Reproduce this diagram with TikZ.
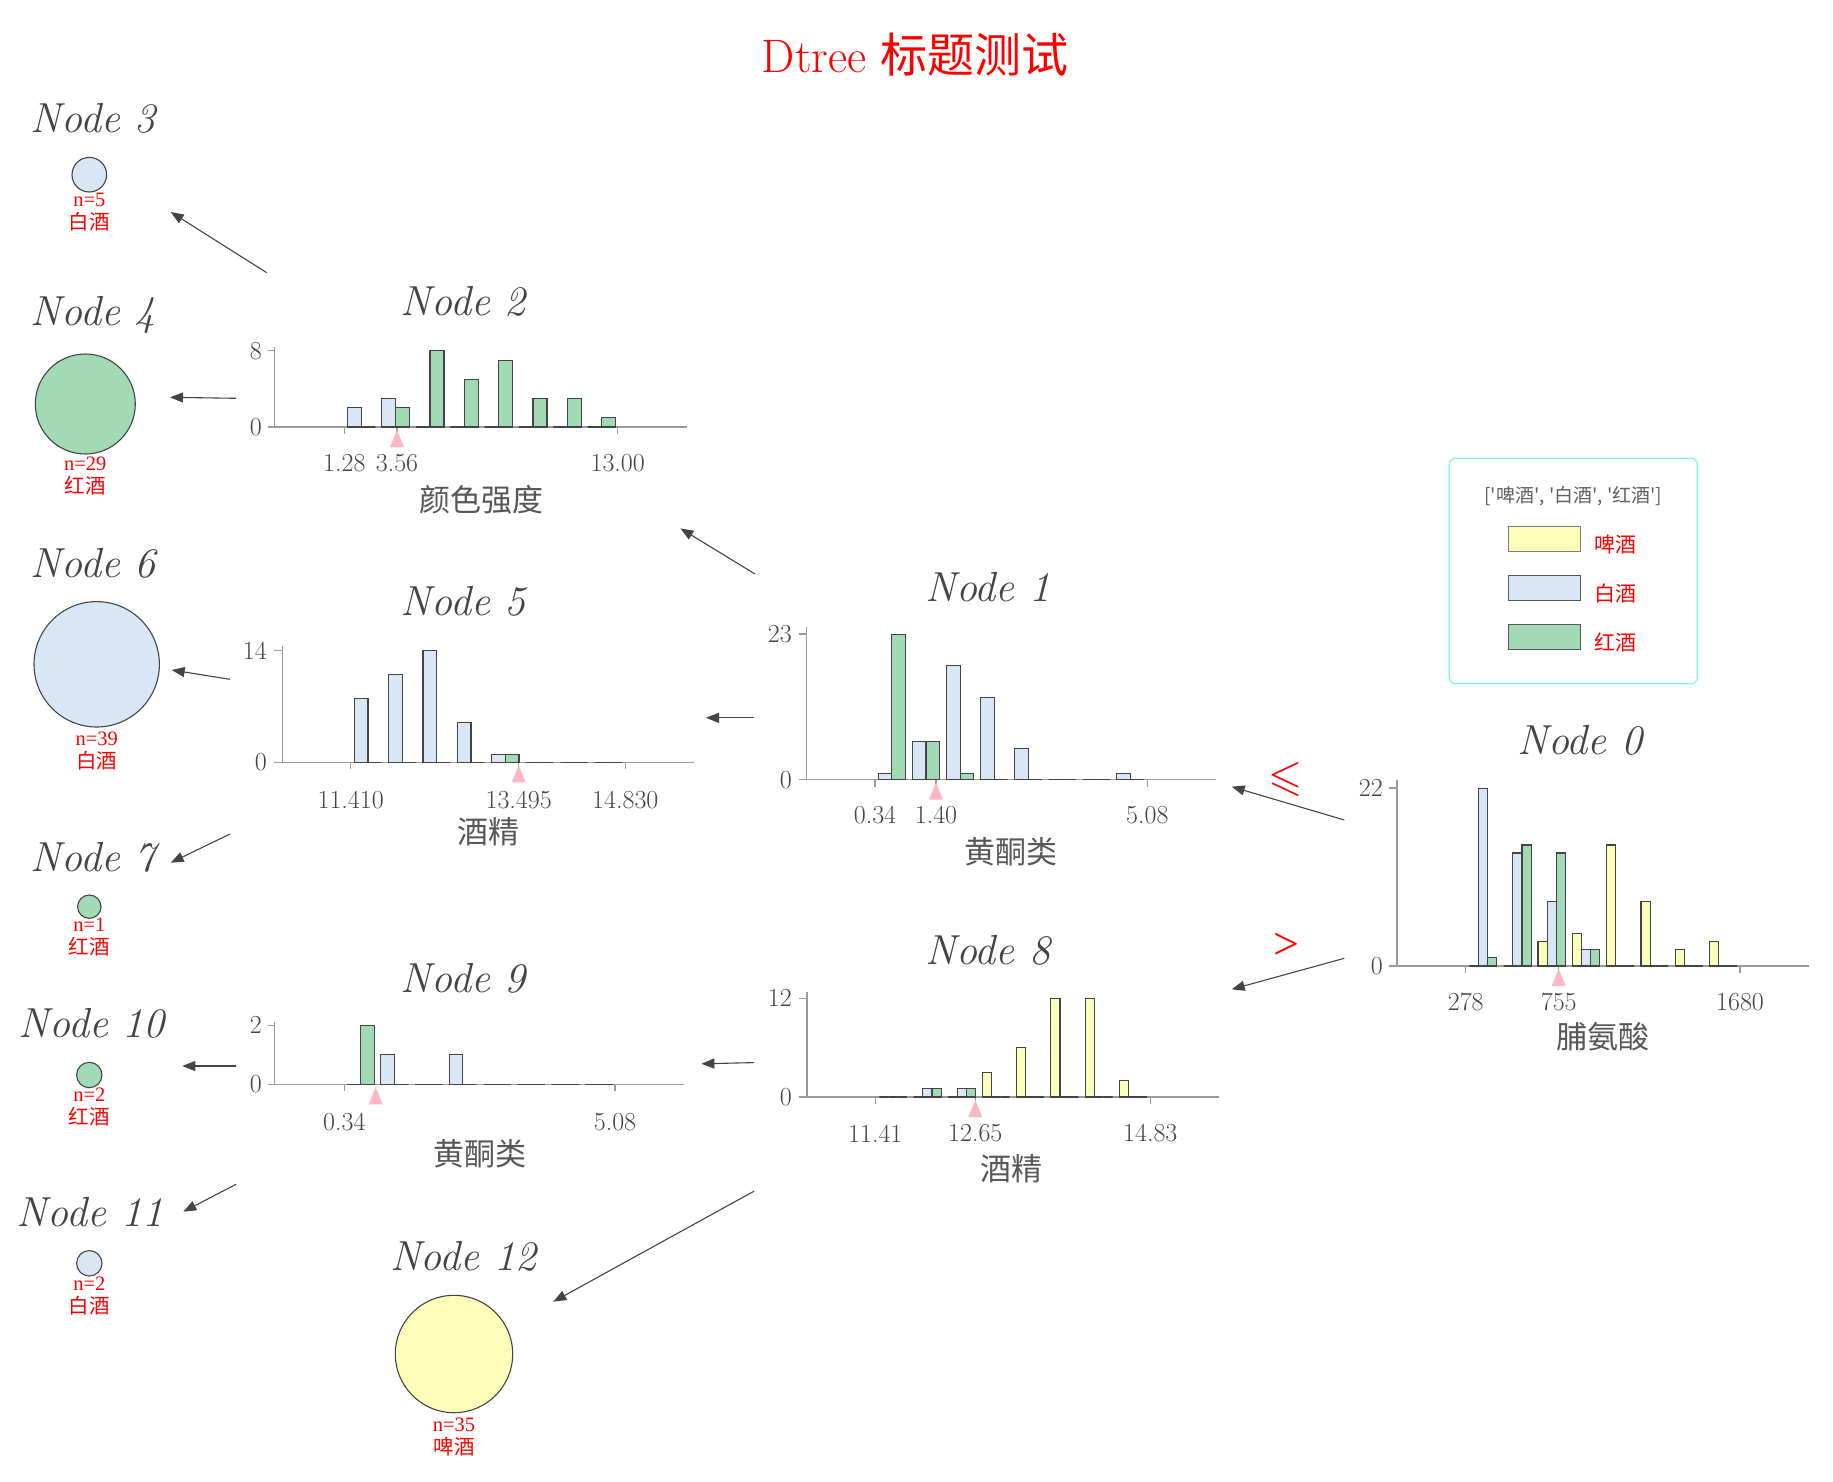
\documentclass[tikz,border=0pt]{standalone}
\usepackage{amssymb}
\usepackage{fontspec}
\usetikzlibrary{arrows.meta}
\newfontfamily\cjk{Noto Sans CJK SC}
\newfontfamily\tms{Liberation Serif}
\definecolor{cY}{HTML}{FEFEBB}
\definecolor{cB}{HTML}{D9E6F5}
\definecolor{cG}{HTML}{A1DAB4}
\definecolor{txt}{HTML}{444443}
\definecolor{axc}{HTML}{9A9A9A}
\definecolor{pinkc}{HTML}{FFB6C1}
\definecolor{legc}{HTML}{80F4F4}
\newcommand{\sq}{\textquotesingle}
\newcommand{\histo}[6]{%
  \foreach \g/\c/\h/\col in {#6}{%
    \draw[barst, fill=\col] ({#1+\g*#2+\c*#3},{#4}) rectangle ++({#3},{-\h*#5});
  }%
}
\newcommand{\splitmark}[2]{\fill[pinkc] (#1,{#2+3}) -- ({#1-7},{#2+20}) -- ({#1+7},{#2+20}) -- cycle;}
\tikzset{
  barst/.style={draw=txt, line width=1.1pt},
  axis/.style={draw=axc, line width=1.2pt},
  ntitle/.style={font=\fontsize{42}{44}\selectfont\itshape, text=txt, inner sep=0pt},
  tlab/.style={font=\fontsize{26}{28}\selectfont, text=txt, inner sep=0pt},
  alab/.style={font=\cjk\fontsize{31}{33}\selectfont, text=txt!90, inner sep=0pt},
  leaf/.style={font=\tms\fontsize{20.5}{23}\selectfont, text=red, align=center, inner sep=0pt},
  leafc/.style={circle, draw=txt, line width=1.1pt, inner sep=0pt},
  conn/.style={draw=txt, line width=1.1pt, -{Triangle[length=13pt,width=10pt]}},
}
\begin{document}
\begin{tikzpicture}[x=1pt,y=-1pt]
\fill[white] (0,0) rectangle (1833,1482);
\useasboundingbox (0,0) rectangle (1833,1482);

% title
\node[text=red, font=\fontsize{47}{49}\selectfont, inner sep=0pt] (title) at (915.3,55) {Dtree {\cjk 标题测试}};

% ---------------- Node 0 ----------------
\node[ntitle] (t0) at (1580,740) {Node 0};
\draw[axis] (1397,966) -- (1397,780);
\draw[axis] (1389,966) -- (1809,966);
\draw[axis] (1389,788) -- (1397,788);
\foreach \x in {1465.7,1558.7,1740} \draw[axis] (\x,966) -- (\x,973);
\histo{1469.3}{34.33}{9.17}{966}{8.07}{
0/0/0/cY, 0/1/22/cB, 0/2/1/cG,
1/0/0/cY, 1/1/14/cB, 1/2/15/cG,
2/0/3/cY, 2/1/8/cB, 2/2/14/cG,
3/0/4/cY, 3/1/2/cB, 3/2/2/cG,
4/0/15/cY, 4/1/0/cB, 4/2/0/cG,
5/0/8/cY, 5/1/0/cB, 5/2/0/cG,
6/0/2/cY, 6/1/0/cB, 6/2/0/cG,
7/0/3/cY, 7/1/0/cB, 7/2/0/cG}
\splitmark{1558.7}{966}
\node[tlab, anchor=east] (y0a) at (1383,788) {22};
\node[tlab, anchor=east] (y0b) at (1383,966) {0};
\node[tlab] (x0a) at (1465.7,1002) {278};
\node[tlab] (x0b) at (1558.7,1002) {755};
\node[tlab] (x0c) at (1740,1002) {1680};
\node[alab] (a0) at (1603,1037) {脯氨酸};

% ---------------- Node 1 ----------------
\node[ntitle] (t1) at (988,587) {Node 1};
\draw[axis] (806.7,779.7) -- (806.7,627);
\draw[axis] (799,779.7) -- (1216,779.7);
\draw[axis] (799,634) -- (806.7,634);
\foreach \x in {875,936,1147.3} \draw[axis] (\x,779.7) -- (\x,786.7);
\histo{878.3}{34.07}{13.6}{779.7}{6.33}{
0/0/1/cB, 0/1/23/cG,
1/0/6/cB, 1/1/6/cG,
2/0/18/cB, 2/1/1/cG,
3/0/13/cB, 3/1/0/cG,
4/0/5/cB, 4/1/0/cG,
5/0/0/cB, 5/1/0/cG,
6/0/0/cB, 6/1/0/cG,
7/0/1/cB, 7/1/0/cG}
\splitmark{936}{779.7}
\node[tlab, anchor=east] (y1a) at (792,634) {23};
\node[tlab, anchor=east] (y1b) at (792,779.7) {0};
\node[tlab] (x1a) at (875,815) {0.34};
\node[tlab] (x1b) at (936,815) {1.40};
\node[tlab] (x1c) at (1147.3,815) {5.08};
\node[alab] (a1) at (1010.7,851.7) {黄酮类};

% ---------------- Node 8 ----------------
\node[ntitle] (t8) at (988,950) {Node 8};
\draw[axis] (807,1097) -- (807,992);
\draw[axis] (799.3,1097) -- (1219,1097);
\draw[axis] (799.3,998.3) -- (807,998.3);
\foreach \x in {875.3,975.3,1150.3} \draw[axis] (\x,1097) -- (\x,1104);
\histo{879.3}{34.3}{9.17}{1097}{8.22}{
0/0/0/cY, 0/1/0/cB, 0/2/0/cG,
1/0/0/cY, 1/1/1/cB, 1/2/1/cG,
2/0/0/cY, 2/1/1/cB, 2/2/1/cG,
3/0/3/cY, 3/1/0/cB, 3/2/0/cG,
4/0/6/cY, 4/1/0/cB, 4/2/0/cG,
5/0/12/cY, 5/1/0/cB, 5/2/0/cG,
6/0/12/cY, 6/1/0/cB, 6/2/0/cG,
7/0/2/cY, 7/1/0/cB, 7/2/0/cG}
\splitmark{975.3}{1097}
\node[tlab, anchor=east] (y8a) at (792,998.3) {12};
\node[tlab, anchor=east] (y8b) at (792,1097) {0};
\node[tlab] (x8a) at (875.3,1133.3) {11.41};
\node[tlab] (x8b) at (975.3,1133.3) {12.65};
\node[tlab] (x8c) at (1150.3,1133.3) {14.83};
\node[alab] (a8) at (1011.7,1168.3) {酒精};

% ---------------- Node 2 ----------------
\node[ntitle] (t2) at (463.3,301.7) {Node 2};
\draw[axis] (274.3,427) -- (274.3,347);
\draw[axis] (267.7,427) -- (687.3,427);
\draw[axis] (267.7,350.7) -- (274.3,350.7);
\foreach \x in {344.3,397,617.7} \draw[axis] (\x,427) -- (\x,434);
\histo{347.3}{34.33}{14}{427}{9.54}{
0/0/2/cB, 0/1/0/cG,
1/0/3/cB, 1/1/2/cG,
2/0/0/cB, 2/1/8/cG,
3/0/0/cB, 3/1/5/cG,
4/0/0/cB, 4/1/7/cG,
5/0/0/cB, 5/1/3/cG,
6/0/0/cB, 6/1/3/cG,
7/0/0/cB, 7/1/1/cG}
\splitmark{397}{427}
\node[tlab, anchor=east] (y2a) at (262,350.7) {8};
\node[tlab, anchor=east] (y2b) at (262,427) {0};
\node[tlab] (x2a) at (344.3,463.3) {1.28};
\node[tlab] (x2b) at (397,463.3) {3.56};
\node[tlab] (x2c) at (617.7,463.3) {13.00};
\node[alab] (a2) at (481.7,500) {颜色强度};

% ---------------- Node 5 ----------------
\node[ntitle] (t5) at (463.3,601.7) {Node 5};
\draw[axis] (282.7,762.3) -- (282.7,646);
\draw[axis] (274,762.3) -- (694.3,762.3);
\draw[axis] (274,650.7) -- (282.7,650.7);
\foreach \x in {350.7,518.7,625.3} \draw[axis] (\x,762.3) -- (\x,769.3);
\histo{354.3}{34.33}{13.7}{762.3}{7.98}{
0/0/8/cB, 0/1/0/cG,
1/0/11/cB, 1/1/0/cG,
2/0/14/cB, 2/1/0/cG,
3/0/5/cB, 3/1/0/cG,
4/0/1/cB, 4/1/1/cG,
5/0/0/cB, 5/1/0/cG,
6/0/0/cB, 6/1/0/cG,
7/0/0/cB, 7/1/0/cG}
\splitmark{518.7}{762.3}
\node[tlab, anchor=east] (y5a) at (267,650.7) {14};
\node[tlab, anchor=east] (y5b) at (267,762.3) {0};
\node[tlab] (x5a) at (350.7,800) {11.410};
\node[tlab] (x5b) at (518.7,800) {13.495};
\node[tlab] (x5c) at (625.3,800) {14.830};
\node[alab] (a5) at (488.3,831.7) {酒精};

% ---------------- Node 9 ----------------
\node[ntitle] (t9) at (463.3,978.3) {Node 9};
\draw[axis] (274.3,1084.3) -- (274.3,1021.7);
\draw[axis] (267.7,1084.3) -- (684,1084.3);
\draw[axis] (267.7,1025.3) -- (274.3,1025.3);
\foreach \x in {344.3,615} \draw[axis] (\x,1084.3) -- (\x,1091.3);
\histo{346.7}{34.17}{13.7}{1084.3}{29.5}{
0/0/0/cB, 0/1/2/cG,
1/0/1/cB, 1/1/0/cG,
2/0/0/cB, 2/1/0/cG,
3/0/1/cB, 3/1/0/cG,
4/0/0/cB, 4/1/0/cG,
5/0/0/cB, 5/1/0/cG,
6/0/0/cB, 6/1/0/cG,
7/0/0/cB, 7/1/0/cG}
\splitmark{375.7}{1084.3}
\node[tlab, anchor=east] (y9a) at (262,1025.3) {2};
\node[tlab, anchor=east] (y9b) at (262,1084.3) {0};
\node[tlab] (x9a) at (344.3,1121.7) {0.34};
\node[tlab] (x9c) at (615,1121.7) {5.08};
\node[alab] (a9) at (480,1153.3) {黄酮类};

% ---------------- leaves ----------------
\node[ntitle] (t3) at (93.3,118.3) {Node 3};
\node[leafc, fill=cB, minimum size=34.6pt] (c3) at (89.3,174.7) {};
\node[leaf] (l3) at (89.3,212) {n=5\\{\cjk 白酒}};

\node[ntitle] (t4) at (93.3,315) {Node 4};
\node[leafc, fill=cG, minimum size=100pt] (c4) at (85.3,404) {};
\node[leaf] (l4) at (85.3,476.5) {n=29\\{\cjk 红酒}};

\node[ntitle] (t6) at (93.3,563.3) {Node 6};
\node[leafc, fill=cB, minimum size=125.4pt] (c6) at (96.7,664.3) {};
\node[leaf] (l6) at (96.7,751) {n=39\\{\cjk 白酒}};

\node[ntitle] (t7) at (93.3,857.3) {Node 7};
\node[leafc, fill=cG, minimum size=23.4pt] (c7) at (89.3,906.7) {};
\node[leaf] (l7) at (89.3,937.5) {n=1\\{\cjk 红酒}};

\node[ntitle] (t10) at (91.7,1023.3) {Node 10};
\node[leafc, fill=cG, minimum size=25.4pt] (c10) at (89.3,1075) {};
\node[leaf] (l10) at (89.3,1107) {n=2\\{\cjk 红酒}};

\node[ntitle] (t11) at (90,1211.7) {Node 11};
\node[leafc, fill=cB, minimum size=25.4pt] (c11) at (89.3,1263.3) {};
\node[leaf] (l11) at (89.3,1296) {n=2\\{\cjk 白酒}};

\node[ntitle] (t12) at (463.3,1256.7) {Node 12};
\node[leafc, fill=cY, minimum size=117.4pt] (c12) at (454,1354) {};
\node[leaf] (l12) at (454,1437) {n=35\\{\cjk 啤酒}};

% ---------------- legend ----------------
\node[draw=legc, line width=1.3pt, rounded corners=6pt, minimum width=248pt, minimum height=225.4pt, inner sep=0pt] (leg) at (1573.3,571) {};
\node[font=\cjk\fontsize{19}{21}\selectfont, text=txt!85, inner sep=0pt] (legt) at (1573.3,496.7) {[\sq 啤酒\sq, \sq 白酒\sq, \sq 红酒\sq]};
\draw[draw=txt!70, line width=1.1pt, fill=cY] (1508.3,526.7) rectangle (1580.3,551.7);
\draw[draw=txt!90, line width=1.1pt, fill=cB] (1508.3,575.3) rectangle (1580.3,600.7);
\draw[draw=txt!90, line width=1.1pt, fill=cG] (1508.3,624.3) rectangle (1580.3,649.3);
\node[font=\cjk\fontsize{21}{23}\selectfont, text=red, inner sep=0pt] (lg1) at (1615,545) {啤酒};
\node[font=\cjk\fontsize{21}{23}\selectfont, text=red, inner sep=0pt] (lg2) at (1615.7,593.3) {白酒};
\node[font=\cjk\fontsize{21}{23}\selectfont, text=red, inner sep=0pt] (lg3) at (1615,642.3) {红酒};

% ---------------- connectors ----------------
\coordinate (e01s) at (1344.3,820);   \coordinate (e01t) at (1231.7,786.7);
\coordinate (e08s) at (1344.3,958.3); \coordinate (e08t) at (1231.7,989.3);
\coordinate (e12s) at (755,574);      \coordinate (e12t) at (680.4,528.4);
\coordinate (e15s) at (754,717.8);    \coordinate (e15t) at (706,717.8);
\coordinate (e23s) at (266.7,272.7);  \coordinate (e23t) at (170.7,212);
\coordinate (e24s) at (236,398.3);    \coordinate (e24t) at (170,397.3);
\coordinate (e56s) at (230,679.3);    \coordinate (e56t) at (171.7,670);
\coordinate (e57s) at (230,834);      \coordinate (e57t) at (170.7,862.7);
\coordinate (e89s) at (754,1062.6);   \coordinate (e89t) at (701.4,1063.8);
\coordinate (e812s) at (754,1191.2);  \coordinate (e812t) at (553.3,1301.7);
\coordinate (e910s) at (236,1066);    \coordinate (e910t) at (182.3,1066);
\coordinate (e911s) at (236,1184.3);  \coordinate (e911t) at (183.3,1211.7);
\foreach \e in {01,08,12,15,23,24,56,57,89,812,910,911}
  \draw[conn] (e\e s) -- (e\e t);

\node[text=red, font=\fontsize{44}{46}\selectfont, inner sep=0pt] (le) at (1286,779.3) {$\leqslant$};
\node[text=red, font=\tms\fontsize{46}{48}\selectfont, inner sep=0pt] (gt) at (1286.7,946.7) {>};
\end{tikzpicture}
\end{document}
